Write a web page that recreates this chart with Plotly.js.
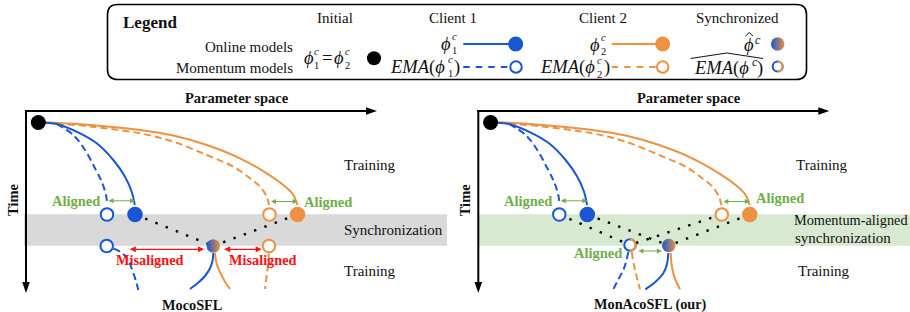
<!DOCTYPE html>
<html><head><meta charset="utf-8">
<script src="https://cdn.plot.ly/plotly-3.0.1.min.js"></script>
<style>html,body{margin:0;padding:0;background:#fff;}#chart{width:910px;height:312px;}</style>
</head><body><div id="chart"></div>
<script>
// ================= DATA =================
const legendTitle = 'Legend';
const legendColumns = ['Initial', 'Client 1', 'Client 2', 'Synchronized'];
const legendRows = ['Online models', 'Momentum models'];
const panelTitles = ['MocoSFL', 'MonAcoSFL (our)'];
const axisLabels = ['Parameter space', 'Time'];
const phaseLabelsMoco = ['Training', 'Synchronization', 'Training'];
const phaseLabelsOurs = ['Training', 'Momentum-aligned', 'synchronization', 'Training'];
const gapLabels = ['Aligned', 'Misaligned'];

// Trajectories in panel coordinates (x: parameter space, y: time) - first training phase, both panels
const initX = [38.3], initY = [122.5];
const c1OnlineX = [45, 56.7, 80, 96.7, 113.3, 125, 131.7, 134.8];
const c1OnlineY = [122.7, 124, 133.3, 143.3, 160, 176.7, 191.7, 205];
const c1MomX = [56.7, 73.3, 85, 95, 101.7, 106, 107.2];
const c1MomY = [124, 135, 150, 168.3, 181.7, 195, 205];
const c2OnlineX = [45, 90, 140, 173.3, 206.7, 240, 266.7, 283.3, 293.3, 297.3];
const c2OnlineY = [122.3, 125, 130, 135.5, 145, 158.3, 173.3, 185, 195, 205];
const c2MomX = [56.7, 90, 140, 173.3, 206.7, 233.3, 250, 260, 266.7, 269];
const c2MomY = [123.5, 126.5, 133.3, 141.7, 155, 166.7, 178.3, 186.7, 196.7, 205];
// models before synchronization [client1, client2]
const preOnlineX = [135, 297.5], preOnlineY = [214.5, 214.5];
const preMomX = [107, 269.5], preMomY = [214.5, 214.5];

// MocoSFL: after synchronization
const mocoSyncX = [213.3], mocoSyncY = [246];
const mocoMomX = [106.7, 269], mocoMomY = [246, 246];
const mocoC1MomX = [113.5, 122, 128, 133, 136.5, 138.3];
const mocoC1MomY = [248.5, 253, 260, 272, 283, 290];
const mocoC1OnX = [213.3, 212.5, 210, 205, 199, 190];
const mocoC1OnY = [253, 261, 268.3, 276, 282, 289];
const mocoC2OnX = [215, 216, 218.3, 222, 225, 230];
const mocoC2OnY = [253, 261, 268.3, 276, 281.7, 289];
const mocoC2MomX = [268.8, 268.3, 267, 265];
const mocoC2MomY = [253.5, 262, 273, 289];

// MonAcoSFL: after synchronization
const monSyncX = [216.5], monSyncY = [245.5];
const monSyncMomX = [177.7], monSyncMomY = [245];
const monC1MomX = [176, 173.7, 171, 165.7, 161];
const monC1MomY = [252, 262, 270, 280, 289.3];
const monC2MomX = [179.4, 181.7, 184.4, 187.7];
const monC2MomY = [252, 265, 276.7, 289.3];
const monC1OnX = [216, 214.7, 211, 203, 193];
const monC1OnY = [253, 264, 273.3, 282, 289.3];
const monC2OnX = [218.4, 219.2, 221, 223.7, 227.7];
const monC2OnY = [253, 264, 273.3, 281, 289.3];

// ================= STYLE =================
const SERIF = '"Liberation Serif", "Times New Roman", Times, serif';
const BLUE = '#1856d3', ORANGE = '#ec9240', GREEN = '#6fae4b', RED = '#ff1010', INK = '#111';
const DASH = '7px,4px', DOT = '2.4px,8.6px';

const traces = [], shapes = [], annotations = [];

function curve(ax, xs, ys, color, dash, w) {
  traces.push({type:'scatter', mode:'lines', x:xs, y:ys, xaxis:ax, yaxis:'y', hoverinfo:'skip',
    line:{color, width:w||2, shape:'spline', smoothing:1, dash:dash||'solid'}});
}
function straight(ax, xs, ys, color, dash, w) {
  traces.push({type:'scatter', mode:'lines', x:xs, y:ys, xaxis:ax, yaxis:'y', hoverinfo:'skip',
    line:{color, width:w||2, dash:dash||'solid'}});
}
function dots(ax, xs, ys, marker) {
  traces.push({type:'scatter', mode:'markers', x:xs, y:ys, xaxis:ax, yaxis:'y', hoverinfo:'skip', cliponaxis:false, marker});
}
const filled = (c, s) => ({color:c, size:s, line:{width:0}});
const hollow = (c, s) => ({color:'#fff', size:s, line:{color:c, width:2}});
const grad = (s) => ({color:BLUE, size:s, line:{width:0}, gradient:{type:'horizontal', color:ORANGE}});

function label(xref, x, y, text, o) {
  o = o || {};
  annotations.push({xref, yref:'y', x, y, text, showarrow:false, xanchor:o.xa||'center', yanchor:'middle',
    align:o.align||'center', textangle:o.angle||0, borderpad:0,
    font:{family:SERIF, size:o.size||15, color:o.color||INK}});
}
function dblArrow(xref, x0, x1, y, color, w, s) {
  annotations.push({xref, yref:'y', axref:xref, ayref:'y', x:x1, y, ax:x0, ay:y, text:'', showarrow:true,
    arrowside:'end+start', arrowhead:2, startarrowhead:2, arrowsize:s, startarrowsize:s, arrowwidth:w,
    arrowcolor:color, standoff:0, startstandoff:0});
}
function rightHalf(xref, cx, cy, r, color) {
  const k = 0.5523 * r;
  shapes.push({type:'path', xref, yref:'y', line:{color, width:2},
    path:`M${cx},${cy-r} C${cx+k},${cy-r} ${cx+r},${cy-k} ${cx+r},${cy} C${cx+r},${cy+k} ${cx+k},${cy+r} ${cx},${cy+r}`});
}
function hat(xref, x0, x1, yBase, yTop, w) {
  shapes.push({type:'path', xref, yref:'y', line:{color:INK, width:w||1},
    path:`M${x0},${yBase} L${(x0+x1)/2},${yTop} L${x1},${yBase}`});
}

// ---------- panel frame ----------
const AX = {x0:26, y0:111, xEnd:377, yEnd:293};
function frame(ax) {
  shapes.push({type:'line', xref:ax, yref:'y', x0:AX.x0-1, y0:AX.y0, x1:AX.xEnd-9, y1:AX.y0, line:{color:'#000', width:2}});
  shapes.push({type:'path', xref:ax, yref:'y', fillcolor:'#000', line:{width:0},
    path:`M${AX.xEnd-11},${AX.y0-3.8} L${AX.xEnd},${AX.y0} L${AX.xEnd-11},${AX.y0+3.8} Z`});
  shapes.push({type:'line', xref:ax, yref:'y', x0:AX.x0, y0:AX.y0-1, x1:AX.x0, y1:AX.yEnd-9, line:{color:'#000', width:2}});
  shapes.push({type:'path', xref:ax, yref:'y', fillcolor:'#000', line:{width:0},
    path:`M${AX.x0-3.8},${AX.yEnd-11} L${AX.x0},${AX.yEnd} L${AX.x0+3.8},${AX.yEnd-11} Z`});
  label(ax, 237, 97.7, '<b>' + axisLabels[0] + '</b>', {size:14.5});
  label(ax, 13, 200, '<b>' + axisLabels[1] + '</b>', {size:14.5, angle:-90});
}

// ---------- shared first training phase ----------
function firstPhase(ax, rightAlignedY) {
  curve(ax, c2OnlineX, c2OnlineY, ORANGE);
  curve(ax, c2MomX, c2MomY, ORANGE, DASH);
  curve(ax, c1OnlineX, c1OnlineY, BLUE);
  curve(ax, c1MomX, c1MomY, BLUE, DASH);
  dblArrow(ax, preMomX[0], preOnlineX[0], 200.8, GREEN, 1, 1);
  dblArrow(ax, preMomX[1], preOnlineX[1], 201.5, GREEN, 1, 1);
  label(ax, 75.5, 201, '<b>' + gapLabels[0] + '</b>', {size:14.5, color:GREEN});
  label(ax, 327.5, rightAlignedY, '<b>' + gapLabels[0] + '</b>', {size:14.5, color:GREEN});
}

// ================= LEFT PANEL: MocoSFL =================
const A1 = 'x2';
shapes.push({type:'rect', xref:A1, yref:'y', x0:24, x1:447, y0:214.3, y1:245.7, fillcolor:'#d9d9d9', line:{width:0}, layer:'below'});
frame(A1);
firstPhase(A1, 201.7);
straight(A1, [preOnlineX[0], mocoSyncX[0]], [preOnlineY[0], mocoSyncY[0]], '#000', DOT, 2.4);
straight(A1, [preOnlineX[1], mocoSyncX[0]], [preOnlineY[1], mocoSyncY[0]], '#000', DOT, 2.4);
curve(A1, mocoC1MomX, mocoC1MomY, BLUE, DASH);
curve(A1, mocoC2MomX, mocoC2MomY, ORANGE, DASH);
curve(A1, mocoC1OnX, mocoC1OnY, BLUE);
curve(A1, mocoC2OnX, mocoC2OnY, ORANGE);
dots(A1, initX, initY, filled('#000', 15));
dots(A1, [preOnlineX[0]], [preOnlineY[0]], filled(BLUE, 15.5));
dots(A1, [preOnlineX[1]], [preOnlineY[1]], filled(ORANGE, 15.5));
dots(A1, [preMomX[0]], [preMomY[0]], hollow(BLUE, 12.5));
dots(A1, [preMomX[1]], [preMomY[1]], hollow(ORANGE, 12.5));
dots(A1, [mocoMomX[0]], [mocoMomY[0]], hollow(BLUE, 12.5));
dots(A1, [mocoMomX[1]], [mocoMomY[1]], hollow(ORANGE, 12.5));
dots(A1, mocoSyncX, mocoSyncY, grad(13.5));
dblArrow(A1, 128.3, 204, 249.3, RED, 1.2, 1);
dblArrow(A1, 222.7, 261.7, 249.3, RED, 1.2, 1);
label(A1, 150, 260, '<b>' + gapLabels[1] + '</b>', {size:14.3, color:RED});
label(A1, 263, 260, '<b>' + gapLabels[1] + '</b>', {size:14.3, color:RED});
label(A1, 343, 165, phaseLabelsMoco[0], {xa:'left'});
label(A1, 343, 230, phaseLabelsMoco[1], {xa:'left'});
label(A1, 343, 271, phaseLabelsMoco[2], {xa:'left'});
label(A1, 192, 304.5, '<b>' + panelTitles[0] + '</b>', {size:14.3});

// ================= RIGHT PANEL: MonAcoSFL =================
const A2 = 'x3';
shapes.push({type:'rect', xref:A2, yref:'y', x0:26.7, x1:457.7, y0:214.3, y1:245.7, fillcolor:'#d7e9d0', line:{width:0}, layer:'below'});
frame(A2);
firstPhase(A2, 198.3);
straight(A2, [preMomX[0], monSyncMomX[0]], [preMomY[0], monSyncMomY[0]], '#000', DOT, 2.4);
straight(A2, [preMomX[1], monSyncMomX[0]], [preMomY[1], monSyncMomY[0]], '#000', DOT, 2.4);
straight(A2, [preOnlineX[0], monSyncX[0]], [preOnlineY[0], monSyncY[0]], '#000', DOT, 2.4);
straight(A2, [preOnlineX[1], monSyncX[0]], [preOnlineY[1], monSyncY[0]], '#000', DOT, 2.4);
curve(A2, monC1MomX, monC1MomY, BLUE, DASH);
curve(A2, monC2MomX, monC2MomY, ORANGE, DASH);
curve(A2, monC1OnX, monC1OnY, BLUE);
curve(A2, monC2OnX, monC2OnY, ORANGE);
dots(A2, initX, initY, filled('#000', 15));
dots(A2, [preOnlineX[0]], [preOnlineY[0]], filled(BLUE, 15.5));
dots(A2, [preOnlineX[1]], [preOnlineY[1]], filled(ORANGE, 15.5));
dots(A2, [preMomX[0]], [preMomY[0]], hollow(BLUE, 12.5));
dots(A2, [preMomX[1]], [preMomY[1]], hollow(ORANGE, 12.5));
dots(A2, monSyncMomX, monSyncMomY, hollow(BLUE, 11.5));
rightHalf(A2, monSyncMomX[0], monSyncMomY[0], 5.75, ORANGE);
dots(A2, monSyncX, monSyncY, grad(13.5));
dblArrow(A2, 184.6, 209.6, 251, GREEN, 1, 1);
label(A2, 145.2, 253.3, '<b>' + gapLabels[0] + '</b>', {size:14.5, color:GREEN});
label(A2, 342.5, 165, phaseLabelsOurs[0], {xa:'left'});
label(A2, 340.5, 220, phaseLabelsOurs[1], {xa:'left', size:14.3});
label(A2, 341.7, 237.7, phaseLabelsOurs[2], {xa:'left'});
label(A2, 344.4, 271, phaseLabelsOurs[3], {xa:'left'});
label(A2, 197.7, 304.5, '<b>' + panelTitles[1] + '</b>', {size:14.3});

// ================= LEGEND =================
const AL = 'x';
(function(){
  const x0 = 107.5, x1 = 806.5, y0 = 4.5, y1 = 79.5, r = 10;
  shapes.push({type:'path', xref:AL, yref:'y', line:{color:'#000', width:1.6},
    path:`M${x0+r},${y0} L${x1-r},${y0} Q${x1},${y0} ${x1},${y0+r} L${x1},${y1-r} Q${x1},${y1} ${x1-r},${y1} L${x0+r},${y1} Q${x0},${y1} ${x0},${y1-r} L${x0},${y0+r} Q${x0},${y0} ${x0+r},${y0} Z`});
})();
label(AL, 121.5, 22.5, '<b>' + legendTitle + '</b>', {size:17, xa:'left'});
const colX = [335, 453.3, 603.3, 737.3];
legendColumns.forEach((t, i) => label(AL, colX[i], 18.3, t, {size:15}));
label(AL, 293.5, 46.7, legendRows[0], {xa:'right'});
label(AL, 293.5, 68.3, legendRows[1], {xa:'right'});

const R1 = 44, R2 = 67, MATH = 18.5;
// stacked super/sub scripts as one two-line text
function scripts(x, yMid, sup, sub) {
  if (sub) label(AL, x, yMid - 0.3, '<i>' + sup + '</i><br>' + sub, {size:10.5, xa:'left', align:'left'});
  else label(AL, x, yMid - 6, '<i>' + sup + '</i>', {size:12, xa:'left'});
}
// Initial: phi_1^c = phi_2^c
label(AL, 302.5, 58.3, '<i>ϕ</i>', {size:MATH, xa:'left'});
scripts(313.4, 58.3, 'c', '1');
label(AL, 327, 58.3, '=', {size:MATH});
label(AL, 333, 58.3, '<i>ϕ</i>', {size:MATH, xa:'left'});
scripts(343.9, 58.3, 'c', '2');
// Client 1
label(AL, 439.5, R1, '<i>ϕ</i>', {size:MATH, xa:'left'});
scripts(450.6, R1, 'c', '1');
label(AL, 446.3, R2, '<i>EMA</i>(<i>ϕ</i>', {size:MATH, xa:'right'});
scripts(446.8, R2, 'c', '1');
label(AL, 453, R2, ')', {size:MATH, xa:'left'});
// Client 2
label(AL, 589, R1 + 1, '<i>ϕ</i>', {size:MATH, xa:'left'});
scripts(600.1, R1 + 1, 'c', '2');
label(AL, 595.8, R2 + 0.5, '<i>EMA</i>(<i>ϕ</i>', {size:MATH, xa:'right'});
scripts(596.3, R2 + 0.5, 'c', '2');
label(AL, 602.5, R2 + 0.5, ')', {size:MATH, xa:'left'});
// Synchronized
label(AL, 742.5, R1 + 1, '<i>ϕ</i>', {size:MATH, xa:'left'});
hat(AL, 745.5, 753, 36, 32.5, 1);
scripts(754, R1 + 1.5, 'c', null);
label(AL, 750.3, R2 + 1, '<i>EMA</i>(<i>ϕ</i>', {size:MATH, xa:'right'});
scripts(750.6, R2 + 1, 'c', null);
label(AL, 756.3, R2 + 1, ')', {size:MATH, xa:'left'});
hat(AL, 690.5, 763, 58.5, 53, 1);

// legend glyphs
straight(AL, [463.3, 515], [R1, R1], BLUE, 'solid', 2);
straight(AL, [463.3, 509], [R2, R2], BLUE, '6.5px,6px', 2);
straight(AL, [611.7, 662], [R1, R1], ORANGE, 'solid', 2);
straight(AL, [611.7, 657], [R2, R2], ORANGE, '6.5px,6px', 2);
dots(AL, [374], [58.3], filled('#000', 14));
dots(AL, [515.7], [R1], filled(BLUE, 15));
dots(AL, [516], [R2], hollow(BLUE, 11.5));
dots(AL, [662.7], [R1], filled(ORANGE, 15));
dots(AL, [662.7], [R2], hollow(ORANGE, 11.5));
dots(AL, [777.7], [R1], grad(13.5));
dots(AL, [777.7], [R2 - 0.5], hollow(BLUE, 10));
rightHalf(AL, 777.7, R2 - 0.5, 5, ORANGE);

const hidden = {visible:false, fixedrange:true};
const layout = {
  width:910, height:312, margin:{l:0, r:0, t:0, b:0}, showlegend:false,
  paper_bgcolor:'#fff', plot_bgcolor:'rgba(0,0,0,0)',
  xaxis: Object.assign({domain:[0,1], range:[0,910], anchor:'y'}, hidden),
  xaxis2: Object.assign({domain:[0,0.5], range:[0,455], anchor:'y'}, hidden),
  xaxis3: Object.assign({domain:[0.5,1], range:[2.7,457.7], anchor:'y'}, hidden),
  yaxis: Object.assign({domain:[0,1], range:[312,0]}, hidden),
  shapes, annotations
};
Plotly.newPlot('chart', traces, layout, {staticPlot:true, displayModeBar:false});
</script></body></html>
